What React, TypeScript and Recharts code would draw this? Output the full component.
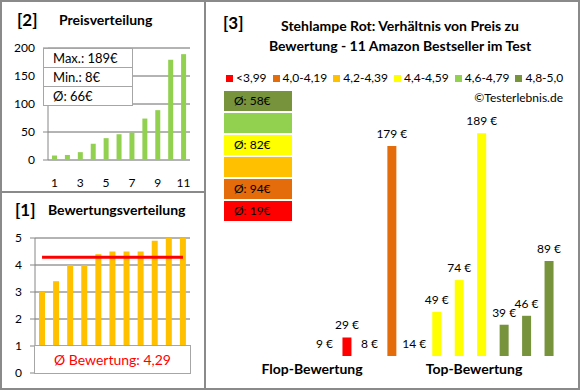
import React from "react";
import {
  Bar,
  BarChart,
  CartesianGrid,
  Cell,
  ComposedChart,
  LabelList,
  Line,
  XAxis,
  YAxis,
} from "recharts";

// left top: prices sorted ascending
const rankLabels = ["1", "2", "3", "4", "5", "6", "7", "8", "9", "10", "11"];
const sortedPrices = [8, 9, 14, 29, 39, 46, 49, 74, 89, 179, 189];
const priceStats = ["Max.: 189€", "Min.: 8€", "Ø: 66€"];

// left bottom: ratings sorted ascending
const sortedRatings = [3.0, 3.4, 4.0, 4.0, 4.4, 4.5, 4.5, 4.5, 4.9, 5.0, 5.0];
const avgRating = 4.29;
const avgRatingText = "Ø Bewertung: 4,29";

// right: price by rating band
const bandLabels = ["<3,99", "4,0-4,19", "4,2-4,39", "4,4-4,59", "4,6-4,79", "4,8-5,0"];
const bandColors = ["#FF0000", "#E46C0A", "#FFC000", "#FFFF00", "#92D050", "#77933C"];
const bandAvgPrice = [19, 94, null, 82, null, 58];
const productPrices = [9, 29, 8, 179, 14, 49, 74, 189, 39, 46, 89];
const productBands = [0, 0, 1, 1, 3, 3, 3, 3, 5, 5, 5];
const groupLabels = ["Flop-Bewertung", "Top-Bewertung"];

const FONT = "Lato, 'Liberation Sans', sans-serif";
const BORDER = "#8a8a8a";

const priceData = rankLabels.map((rank, i) => ({ rank, price: sortedPrices[i] }));
const ratingData = rankLabels.map((rank, i) => ({
  rank,
  rating: sortedRatings[i],
  avg: avgRating,
}));
const productData = productPrices.map((price, i) => ({ slot: String(i + 1), price }));

const priceMinor = Array.from({ length: 21 }, (_, i) => i * 10);
const ratingMinor = Array.from({ length: 26 }, (_, i) => i * 0.2);

const tickStyle = { fontSize: 12, fill: "#000", fontFamily: FONT };

function PriceLabel(props: any) {
  const vb = props.viewBox ?? props;
  const { x, y, width, height } = vb;
  const top = Math.min(y, y + height);
  return (
    <text
      x={x + width / 2}
      y={top - 8}
      textAnchor="middle"
      fontSize={12}
      fill="#000"
      fontFamily={FONT}
    >
      {`${props.value} €`}
    </text>
  );
}

function Txt(props: { left: number; top: number; size: number; bold?: boolean; children: any; style?: any }) {
  return (
    <div
      style={{
        position: "absolute",
        left: props.left,
        top: props.top,
        fontSize: props.size,
        fontWeight: props.bold ? 700 : 400,
        lineHeight: "20px",
        whiteSpace: "nowrap",
        color: "#000",
        ...props.style,
      }}
    >
      {props.children}
    </div>
  );
}

export default function App() {
  return (
    <div
      style={{
        position: "absolute",
        left: 0,
        top: 0,
        width: 580,
        height: 390,
        background: "#fff",
        fontFamily: FONT,
        overflow: "hidden",
      }}
    >
      {/* panel frames */}
      <div style={{ position: "absolute", left: 0, top: 0, width: 576, height: 386, border: `2px solid ${BORDER}` }} />
      <div style={{ position: "absolute", left: 204, top: 0, width: 2, height: 390, background: BORDER }} />
      <div style={{ position: "absolute", left: 0, top: 191, width: 205, height: 2, background: BORDER }} />

      {/* [2] Preisverteilung */}
      <Txt left={17} top={10} size={17} bold>[2]</Txt>
      <Txt left={59} top={10} size={14} bold>Preisverteilung</Txt>
      <div style={{ position: "absolute", left: 0, top: 0 }}>
        <BarChart width={200} height={190} data={priceData} margin={{ top: 48, right: 10, bottom: 0, left: 0 }} barSize={5}>
          <CartesianGrid vertical={false} horizontalValues={priceMinor} stroke="#c4c4c4" />
          <CartesianGrid vertical={false} stroke="#868686" />
          <XAxis dataKey="rank" interval={1} tickLine={false} axisLine={false} tickSize={0} tickMargin={18} height={30} tick={tickStyle} />
          <YAxis
            domain={[0, 200]}
            ticks={[0, 50, 100, 150, 200]}
            width={48}
            tickSize={5}
            tickMargin={8}
            axisLine={{ stroke: "#868686" }}
            tickLine={{ stroke: "#868686" }}
            tick={tickStyle}
          />
          <Bar dataKey="price" fill="#92D050" isAnimationActive={false} />
        </BarChart>
      </div>
      <div
        style={{
          position: "absolute",
          left: 43,
          top: 48,
          width: 88,
          background: "#fff",
          border: "1px solid #a6a6a6",
          fontSize: 13,
        }}
      >
        {priceStats.map((s, i) => (
          <div
            key={s}
            style={{
              height: 18,
              lineHeight: "18px",
              paddingLeft: 9,
              borderTop: i > 0 ? "1px solid #a6a6a6" : "none",
            }}
          >
            {s}
          </div>
        ))}
      </div>

      {/* [1] Bewertungsverteilung */}
      <Txt left={15} top={200} size={17} bold>[1]</Txt>
      <Txt left={48} top={200} size={14} bold>Bewertungsverteilung</Txt>
      <div style={{ position: "absolute", left: 0, top: 195 }}>
        <ComposedChart width={200} height={190} data={ratingData} margin={{ top: 43, right: 10, bottom: 12, left: 0 }}>
          <CartesianGrid vertical={false} horizontalValues={ratingMinor} stroke="#c4c4c4" />
          <CartesianGrid vertical={false} stroke="#868686" />
          <XAxis dataKey="rank" hide />
          <YAxis
            domain={[0, 5]}
            ticks={[0, 1, 2, 3, 4, 5]}
            width={35}
            tickSize={5}
            tickMargin={8}
            axisLine={{ stroke: "#868686" }}
            tickLine={{ stroke: "#868686" }}
            tick={tickStyle}
          />
          <Bar dataKey="rating" fill="#FFC000" barSize={6} isAnimationActive={false} />
          <Line dataKey="avg" stroke="#FF0000" strokeWidth={3} dot={false} isAnimationActive={false} />
        </ComposedChart>
      </div>
      <div
        style={{
          position: "absolute",
          left: 34,
          top: 345,
          width: 155,
          height: 27,
          background: "#fff",
          border: "1px solid #a6a6a6",
          color: "#FF0000",
          fontSize: 14,
          lineHeight: "27px",
          textAlign: "center",
        }}
      >
        {avgRatingText}
      </div>

      {/* [3] Preis zu Bewertung */}
      <Txt left={223} top={13} size={17} bold>[3]</Txt>
      <div
        style={{
          position: "absolute",
          left: 205,
          top: 16,
          width: 390,
          textAlign: "center",
          fontSize: 14,
          fontWeight: 700,
          lineHeight: "20px",
        }}
      >
        Stehlampe Rot: Verhältnis von Preis zu
        <br />
        Bewertung - 11 Amazon Bestseller im Test
      </div>
      <div
        style={{
          position: "absolute",
          left: 226,
          top: 70,
          display: "flex",
          alignItems: "center",
          fontSize: 12,
          lineHeight: "16px",
          whiteSpace: "nowrap",
        }}
      >
        {bandLabels.map((l, i) => (
          <div key={l} style={{ display: "flex", alignItems: "center", marginRight: 6 }}>
            <div style={{ width: 7, height: 7, background: bandColors[i], marginRight: 3 }} />
            <span>{l}</span>
          </div>
        ))}
      </div>
      <div style={{ position: "absolute", right: 17, top: 90, fontSize: 12, lineHeight: "16px" }}>
        ©Testerlebnis.de
      </div>
      {bandColors
        .map((c, i) => ({ c, avg: bandAvgPrice[i] }))
        .reverse()
        .map((b, i) => (
          <div
            key={i}
            style={{
              position: "absolute",
              left: 224,
              top: 91 + i * 22,
              width: 68,
              height: 20,
              background: b.c,
              fontSize: 12,
              lineHeight: "20px",
              paddingLeft: 10,
              boxSizing: "border-box",
            }}
          >
            {b.avg != null ? `Ø: ${b.avg}€` : ""}
          </div>
        ))}
      <div style={{ position: "absolute", left: 205, top: 0 }}>
        <BarChart width={373} height={388} data={productData} margin={{ top: 132, right: 18, bottom: 32, left: 108 }} barSize={9}>
          <XAxis dataKey="slot" hide />
          <YAxis domain={[14.5, 190]} allowDataOverflow hide />
          <Bar dataKey="price" isAnimationActive={false}>
            {productBands.map((b, i) => (
              <Cell key={i} fill={bandColors[b]} />
            ))}
            <LabelList dataKey="price" content={PriceLabel} />
          </Bar>
        </BarChart>
      </div>
      {groupLabels.map((g, i) => (
        <div
          key={g}
          style={{
            position: "absolute",
            left: i === 0 ? 252 : 414,
            top: 359,
            width: 120,
            textAlign: "center",
            fontSize: 14,
            fontWeight: 700,
            lineHeight: "20px",
            whiteSpace: "nowrap",
          }}
        >
          {g}
        </div>
      ))}
    </div>
  );
}
